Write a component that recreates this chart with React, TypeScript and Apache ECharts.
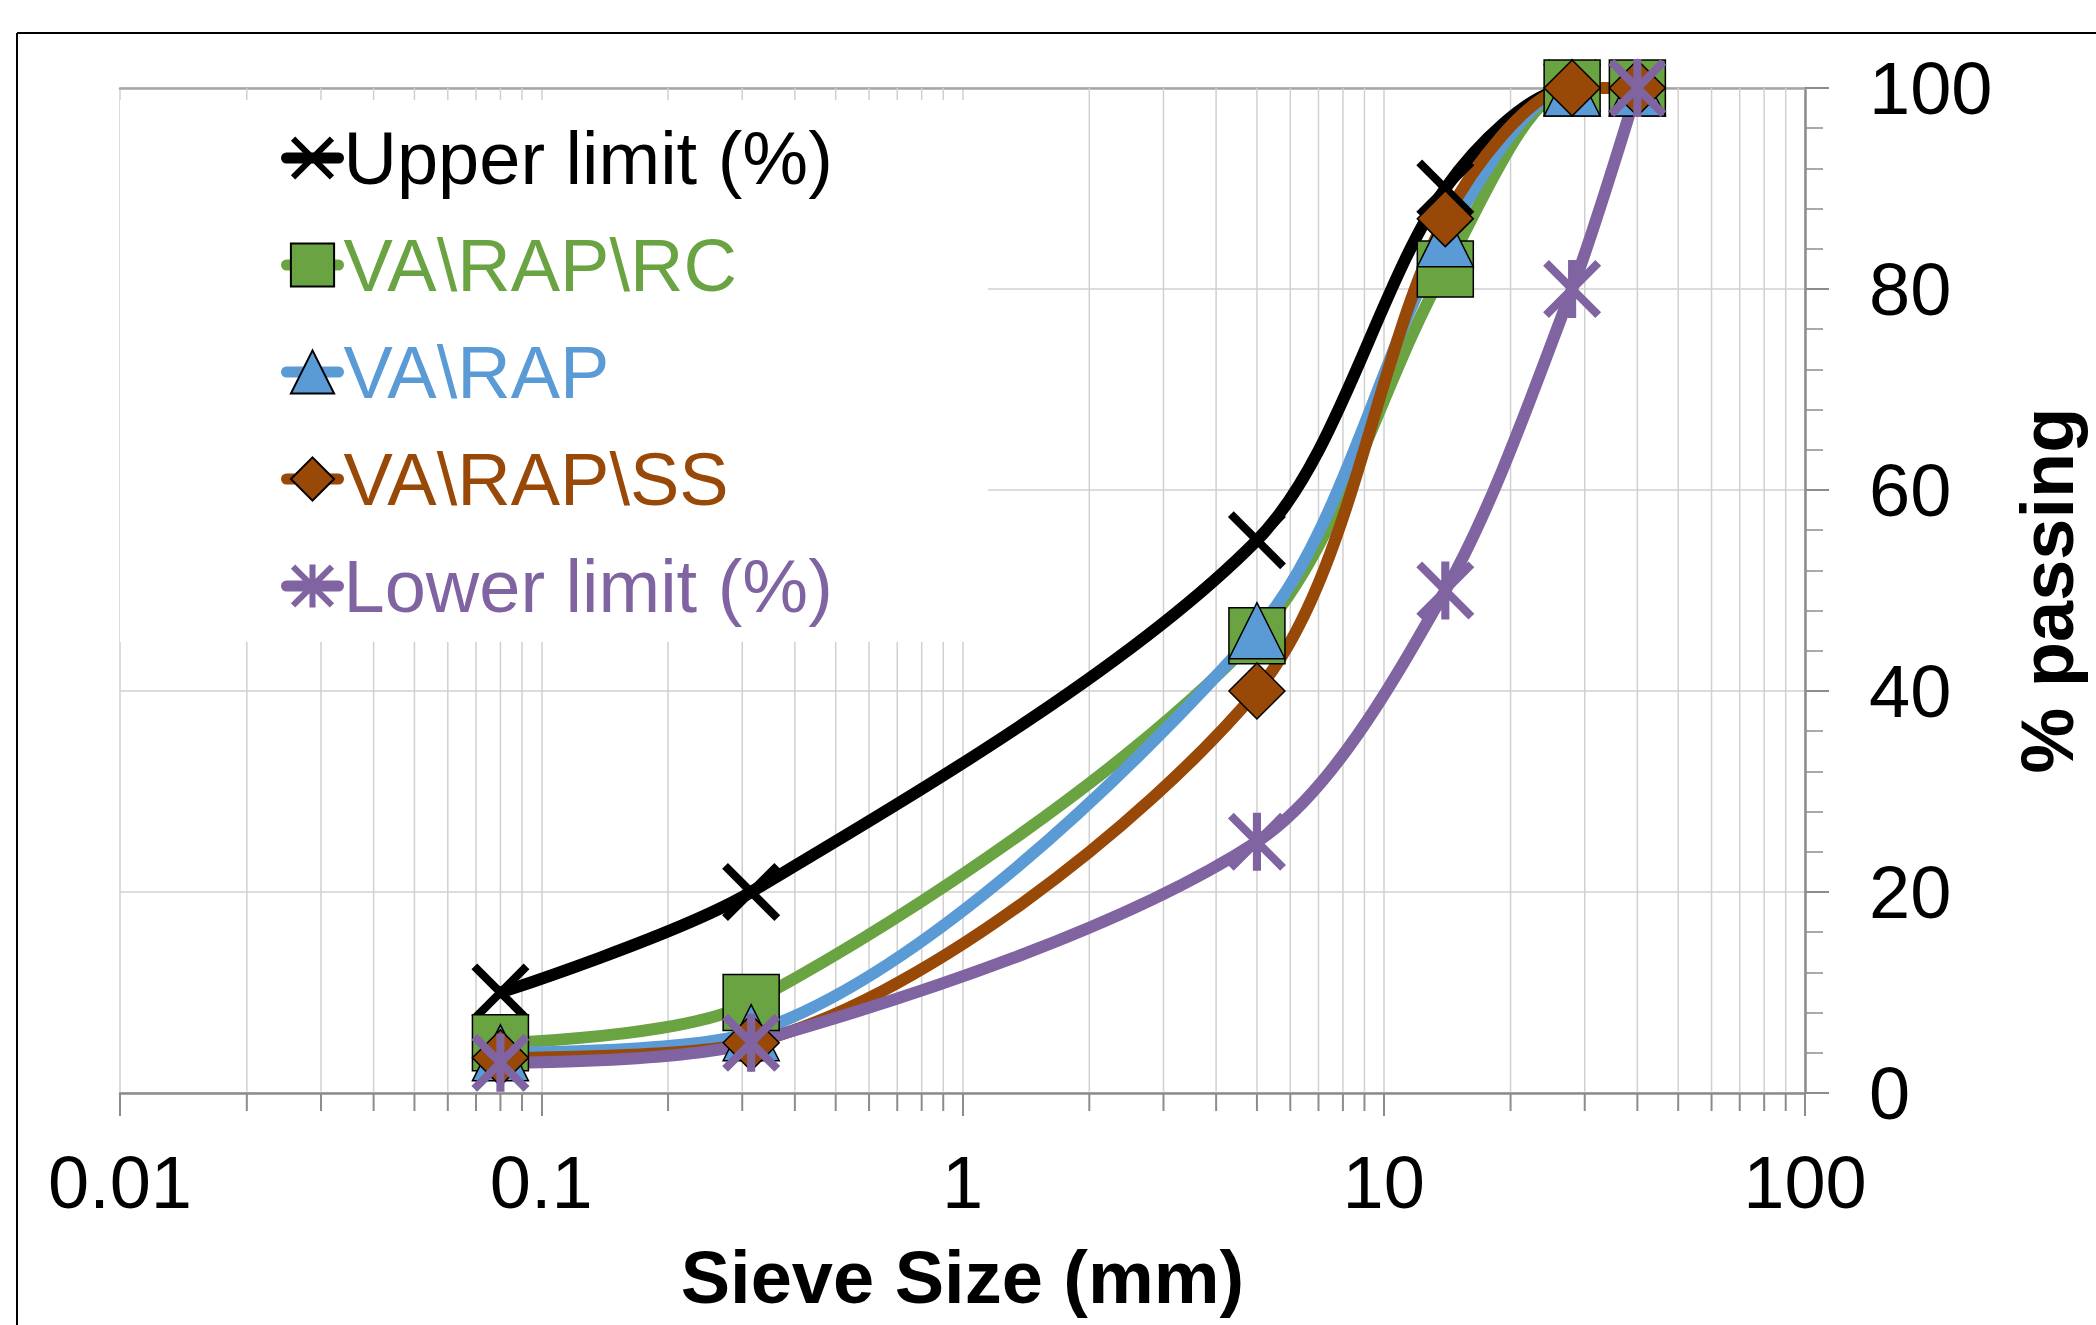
import React, { useEffect, useRef } from "react";
import * as echarts from "echarts";

const sieveSizes = [0.08, 0.315, 5, 14, 28, 40];
const upperLimit = [10, 20, 55, 90, 100, 100];
const vaRapRc = [5, 9, 45.5, 82, 100, 100];
const vaRap = [4, 6, 46, 85, 100, 100];
const vaRapSs = [3.5, 5, 40, 87, 100, 100];
const lowerLimit = [3, 5, 25, 50, 80, 100];

const seriesNames = ["Upper limit (%)", "VA\\RAP\\RC", "VA\\RAP", "VA\\RAP\\SS", "Lower limit (%)"];
const seriesColors = ["#000000", "#6AA342", "#5B9BD5", "#984807", "#8064A2"];

const xTickLabels = ["0.01", "0.1", "1", "10", "100"];
const minorTickValues = [
  0.02, 0.03, 0.04, 0.05, 0.06, 0.07, 0.08, 0.09,
  0.2, 0.3, 0.4, 0.5, 0.6, 0.7, 0.8, 0.9,
  2, 3, 4, 5, 6, 7, 8, 9,
  20, 30, 40, 50, 60, 70, 80, 90,
];

const FONT = "'Liberation Sans', Arial, sans-serif";
const CROSS = "path://M0,10L10,0L100,90L90,100Z M90,0L100,10L10,100L0,90Z";
const STAR = "path://M0,10L10,0L100,90L90,100Z M90,0L100,10L10,100L0,90Z M43,0L57,0L57,100L43,100Z";

const pair = (vals: number[]) => sieveSizes.map((s, i) => [s, vals[i]]);

export default function App() {
  const ref = useRef<HTMLDivElement>(null);
  useEffect(() => {
    document.body.style.margin = "0";
    if (!ref.current) return;
    const chart = echarts.init(ref.current, undefined, { renderer: "svg" });
    const valuesList = [upperLimit, vaRapRc, vaRap, vaRapSs, lowerLimit];
    const symbols = [CROSS, "rect", "triangle", "diamond", STAR];
    const symbolSizes = [58, 56, 56, 56, 58];
    const bordered = [false, true, true, true, false];

    const lineSeries = valuesList.map((vals, i) => ({
      type: "line",
      name: seriesNames[i],
      data: pair(vals),
      smooth: 0.3,
      symbol: symbols[i],
      symbolSize: symbolSizes[i],
      showSymbol: true,
      z: 3,
      lineStyle: { color: seriesColors[i], width: 12 },
      itemStyle: bordered[i]
        ? { color: seriesColors[i], borderColor: "#000", borderWidth: 1.5 }
        : { color: seriesColors[i], borderWidth: 0 },
      emphasis: { disabled: true },
    }));

    chart.setOption({
      animation: false,
      backgroundColor: "#fff",
      textStyle: { fontFamily: FONT },
      grid: { left: 120, top: 88, width: 1685, height: 1005, containLabel: false },
      xAxis: [
        {
          type: "log",
          logBase: 10,
          min: 0.01,
          max: 100,
          position: "bottom",
          name: "Sieve Size (mm)",
          nameLocation: "middle",
          nameGap: 147,
          nameTextStyle: { fontSize: 74, fontWeight: "bold", color: "#000", fontFamily: FONT },
          axisLine: { show: true, lineStyle: { color: "#8C8C8C", width: 2.5 } },
          axisTick: { show: true, length: 23, lineStyle: { color: "#8C8C8C", width: 2 } },
          axisLabel: {
            fontSize: 74,
            color: "#000",
            margin: 52,
            fontFamily: FONT,
            formatter: (_v: number, idx: number) => xTickLabels[idx] ?? "",
          },
          splitLine: { show: true, lineStyle: { color: "#D0D0D0", width: 1.5 } },
        },
        {
          type: "log",
          logBase: 10,
          min: 0.01,
          max: 100,
          position: "top",
          axisLine: { show: true, lineStyle: { color: "#A6A6A6", width: 2.5 } },
          axisTick: { show: false },
          axisLabel: { show: false },
          splitLine: { show: false },
        },
      ],
      yAxis: {
        type: "value",
        position: "right",
        min: 0,
        max: 100,
        interval: 20,
        name: "% passing",
        nameLocation: "middle",
        nameGap: 205,
        nameTextStyle: { fontSize: 74, fontWeight: "bold", color: "#000", fontFamily: FONT },
        axisLine: { show: true, lineStyle: { color: "#8C8C8C", width: 2.5 } },
        axisTick: { show: true, length: 24, lineStyle: { color: "#8C8C8C", width: 2 } },
        minorTick: { show: true, splitNumber: 5, length: 18, lineStyle: { color: "#8C8C8C", width: 1.5 } },
        axisLabel: { fontSize: 74, color: "#000", margin: 64, fontFamily: FONT },
        splitLine: { show: true, lineStyle: { color: "#D0D0D0", width: 1.5 } },
      },
      legend: {
        orient: "vertical",
        left: 120,
        top: 100,
        padding: [21, 155, 19, 161],
        backgroundColor: "#fff",
        itemWidth: 52,
        itemHeight: 54,
        itemGap: 33,
        selectedMode: false,
        lineStyle: { width: 11, cap: "round" },
        textStyle: { fontSize: 74, fontFamily: FONT },
        data: seriesNames.map((n, i) => ({ name: n, textStyle: { color: seriesColors[i], fontSize: 74 } })),
        z: 10,
      },
      graphic: [
        { type: "line", shape: { x1: 17, y1: 33, x2: 2096, y2: 33 }, style: { stroke: "#000", lineWidth: 2 } },
        { type: "line", shape: { x1: 17, y1: 33, x2: 17, y2: 1325 }, style: { stroke: "#000", lineWidth: 2 } },
      ],
      series: [
        {
          type: "custom",
          name: "minor",
          silent: true,
          clip: false,
          z: 1,
          data: minorTickValues.map((v) => [v, 0]),
          encode: { x: 0, y: 1 },
          renderItem: (_params: any, api: any) => {
            const v = api.value(0);
            const top = api.coord([v, 100]);
            const bottom = api.coord([v, 0]);
            return {
              type: "group",
              children: [
                {
                  type: "line",
                  shape: { x1: top[0], y1: top[1], x2: bottom[0], y2: bottom[1] - 1.5 },
                  style: { stroke: "#D0D0D0", lineWidth: 1.5 },
                },
                {
                  type: "line",
                  shape: { x1: bottom[0], y1: bottom[1] + 1, x2: bottom[0], y2: bottom[1] + 18 },
                  style: { stroke: "#8C8C8C", lineWidth: 2 },
                },
              ],
            };
          },
        },
        ...lineSeries,
      ],
    });
    return () => chart.dispose();
  }, []);
  return <div ref={ref} style={{ width: 2096, height: 1325 }} />;
}
